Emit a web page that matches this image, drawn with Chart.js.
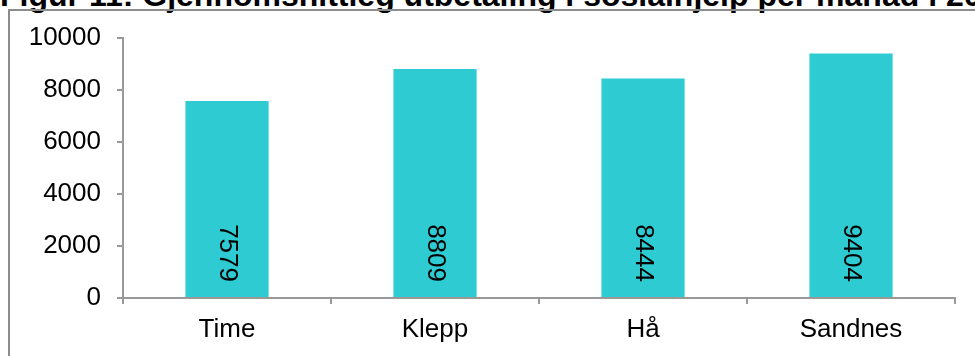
<!DOCTYPE html>
<html>
<head>
<meta charset="utf-8">
<script src="https://cdn.jsdelivr.net/npm/chart.js@4/dist/chart.umd.min.js"></script>
<style>
  body { margin: 0; background: #fff; }
  #wrap { position: relative; width: 975px; height: 356px; overflow: hidden; }
  #tittel {
    position: absolute; left: 0; top: -23px; white-space: nowrap;
    font: bold 32px "Liberation Sans", Arial, sans-serif; color: #000;
  }
  #ramme {
    position: absolute; left: 8px; top: 9px; width: 1200px; height: 600px;
    border: 2px solid #8c8c8c;
  }
  #graf { position: absolute; left: 0; top: 0; }
</style>
</head>
<body>
<div id="wrap">
  <div id="tittel">Figur 11: Gjennomsnittleg utbetaling i sosialhjelp per månad i 2014</div>
  <div id="ramme"></div>
  <canvas id="graf" width="975" height="356"></canvas>
</div>
<script>
// kommunar og snittutbetaling (kr)
const kommunar = ["Time", "Klepp", "Hå", "Sandnes"];
const utbetaling = [7579, 8809, 8444, 9404];
const yTicks = [0, 2000, 4000, 6000, 8000, 10000];

const aksefarge = "#999999";
const font = "Liberation Sans, Arial, sans-serif";

// tal inne i søylene, rotert 90 grader
const verdiEtikettar = {
  id: "verdiEtikettar",
  afterDatasetsDraw(chart) {
    const ctx = chart.ctx;
    const meta = chart.getDatasetMeta(0);
    ctx.save();
    ctx.font = "26px " + font;
    ctx.fillStyle = "#000";
    meta.data.forEach((bar, i) => {
      ctx.save();
      ctx.translate(bar.x, bar.base - 15);
      ctx.rotate(Math.PI / 2);
      ctx.textAlign = "right";
      ctx.textBaseline = "middle";
      ctx.fillText(String(utbetaling[i]), 0, 0);
      ctx.restore();
    });
    ctx.restore();
  }
};

new Chart(document.getElementById("graf"), {
  type: "bar",
  data: {
    labels: kommunar,
    datasets: [{
      data: utbetaling,
      backgroundColor: "#2ecbd2",
      barPercentage: 0.4,
      categoryPercentage: 1
    }]
  },
  options: {
    responsive: false,
    animation: false,
    layout: { padding: { top: 38, right: 20, left: 0, bottom: 0 } },
    plugins: { legend: { display: false }, tooltip: { enabled: false } },
    scales: {
      x: {
        afterFit: s => { s.height = 58; },
        border: { color: aksefarge, width: 2 },
        grid: { offset: true, drawOnChartArea: false, color: aksefarge, lineWidth: 2, tickLength: 6 },
        ticks: { color: "#000", font: { family: font, size: 26 }, padding: 10 }
      },
      y: {
        min: 0,
        max: 10000,
        afterFit: s => { s.width = 123; },
        afterBuildTicks: s => { s.ticks = yTicks.map(v => ({ value: v })); },
        border: { color: aksefarge, width: 2 },
        grid: { drawOnChartArea: false, color: aksefarge, lineWidth: 2, tickLength: 6 },
        ticks: { color: "#000", font: { family: font, size: 26 }, padding: 16, callback: v => String(v) }
      }
    }
  },
  plugins: [verdiEtikettar]
});
</script>
</body>
</html>
